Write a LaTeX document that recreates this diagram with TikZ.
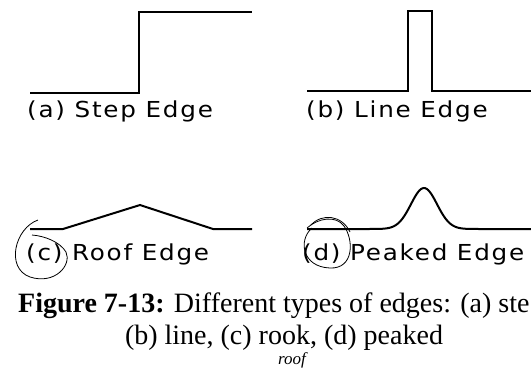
\documentclass[tikz,border=0pt]{standalone}
\usepackage{fontspec}
\setmainfont{Liberation Serif}
\newfontfamily\plotfont[FakeStretch=1.12,LetterSpace=8]{DejaVu Sans}
\tikzset{
  edgeline/.style={line width=2pt,line join=miter},
  edgelabel/.style={anchor=base west,inner sep=0pt,font=\plotfont\fontsize{22}{22}\selectfont},
  capline/.style={inner sep=0pt,font=\fontsize{28}{28}\selectfont},
  pencil/.style={line width=.8pt}
}
\begin{document}
\begin{tikzpicture}[x=1pt,y=-1pt]
  \useasboundingbox (0,0) rectangle (531,368);
  % (a) step
  \draw[edgeline] (30,93) -- (139,93) -- (139,12) -- (252,12);
  \node[edgelabel] (stepl) at (27,117) {(a) Step Edge};
  % (b) line
  \draw[edgeline] (307,91) -- (408,91) -- (408,11) -- (432,11) -- (432,91) -- (531,91);
  \node[edgelabel] (linel) at (306,117) {(b) Line Edge};
  % (c) roof
  \draw[edgeline] (30,229) -- (63,229) -- (140,205) -- (213,229) -- (252,229);
  \node[edgelabel] (roofl) at (26,260) {(c) Roof Edge};
  \draw[pencil] (38,220) .. controls (15,228) and (5,268) .. (30,277)
    .. controls (55,285) and (72,265) .. (66,252)
    .. controls (60,242) and (45,236) .. (32,235);
  % (d) peaked
  \draw[edgeline,smooth] plot[domain=307:531,samples=160]
    (\x,{229-41*exp(-((\x-424)/13)^2/2)});
  \node[edgelabel] (peakl) at (302,260) {(d) Peaked Edge};
  \draw[pencil] (312,228) .. controls (298,240) and (302,267) .. (330,268)
    .. controls (354,269) and (354,240) .. (344,226)
    .. controls (336,215) and (318,218) .. (307,228);
  \draw[pencil] (311,225) .. controls (322,213) and (342,215) .. (350,232);
  % caption
  \node[capline,anchor=base west] (cap1) at (18,312)
    {\textbf{Figure 7-13:} Different types of edges: (a) ste};
  \node[capline,anchor=base] (cap2) at (284,344) {(b) line, (c) rook, (d) peaked};
  \node[anchor=base,inner sep=0pt,font=\itshape\fontsize{17}{17}\selectfont] (roofnote)
    at (292,364) {roof};
\end{tikzpicture}
\end{document}
